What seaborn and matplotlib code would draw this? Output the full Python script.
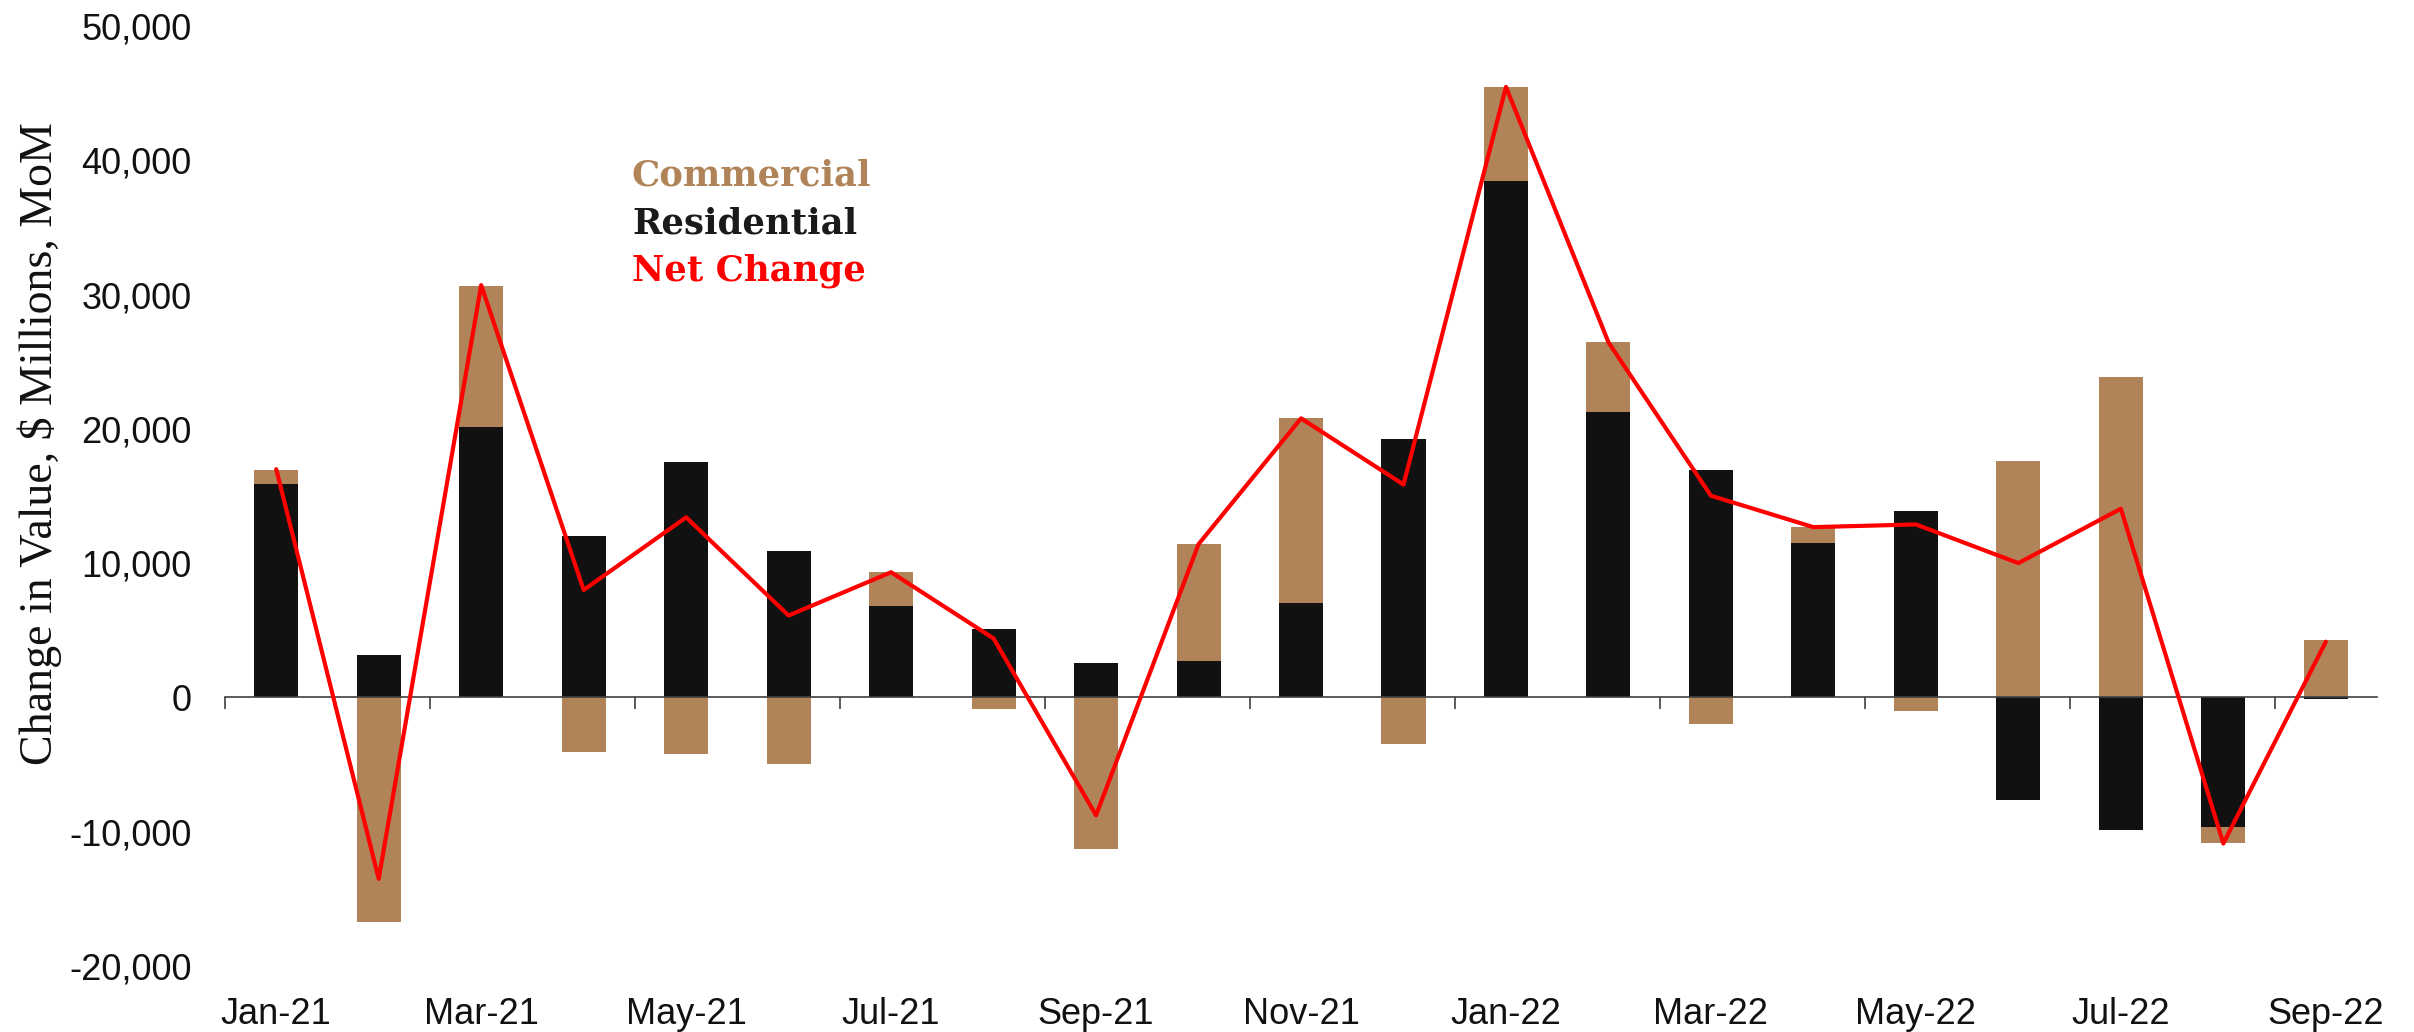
import numpy as np
import pandas as pd
import matplotlib
matplotlib.use("Agg")
import matplotlib.pyplot as plt
import seaborn as sns

# Monthly change in construction value, $ millions
months = ["Jan-21", "Feb-21", "Mar-21", "Apr-21", "May-21", "Jun-21", "Jul-21",
          "Aug-21", "Sep-21", "Oct-21", "Nov-21", "Dec-21", "Jan-22", "Feb-22",
          "Mar-22", "Apr-22", "May-22", "Jun-22", "Jul-22", "Aug-22", "Sep-22"]
residential = [15900, 3170, 20150, 12000, 17560, 10930, 6780, 5070, 2540, 2730,
               7020, 19270, 38440, 21220, 16930, 11510, 13850, -7660, -9900,
               -9660, -150]
commercial = [1070, -16730, 10480, -4050, -4200, -4930, 2540, -880, -11270,
              8680, 13760, -3460, 7020, 5220, -1950, 1170, -980, 17610, 23850,
              -1220, 4290]
net_change = [17000, -13510, 30700, 8000, 13410, 6100, 9320, 4390, -8780,
              11410, 20780, 15850, 45460, 26440, 15020, 12680, 12880, 10000,
              14050, -10880, 4150]
y_ticks = [-20000, -10000, 0, 10000, 20000, 30000, 40000, 50000]

BROWN = "#B08458"
BLACK = "#111111"
RED = "#FF0000"
AXIS = "#404040"

sns.set_theme(style="white")
plt.rcParams["font.family"] = ["Liberation Sans", "DejaVu Sans"]

df = pd.DataFrame({"month": months, "residential": residential,
                   "commercial": commercial, "net": net_change})
df["pos"] = np.arange(len(df))
# positive parts stack upward from zero, negative parts downward
same_sign = np.sign(df["commercial"]) == np.sign(df["residential"])
df["comm_bottom"] = np.where(same_sign, df["residential"], 0)

fig = plt.figure(figsize=(24.14, 10.32), dpi=100)
ax = fig.add_axes([0.0932, 0.064, 0.8915, 0.9108])

sns.barplot(data=df, x="month", y="residential", order=months, color=BLACK,
            width=0.43, saturation=1, errorbar=None, linewidth=0, ax=ax,
            label="Residential")
sns.barplot(data=df, x="month", y="commercial", order=months, color=BROWN,
            width=0.43, saturation=1, errorbar=None, linewidth=0, ax=ax,
            bottom=df["comm_bottom"].to_numpy(), label="Commercial")
sns.lineplot(data=df, x="pos", y="net", color=RED, linewidth=3.0, ax=ax,
             label="Net Change", zorder=5)

ax.set_xlim(-0.5, len(months) - 0.5)
ax.set_ylim(-20000, 50000)

# y axis: labels only
ax.set_yticks(y_ticks, labels=[f"{v:,}" for v in y_ticks])
ax.tick_params(axis="y", length=0, pad=24, labelsize=26, labelcolor="#111111")
ax.set_ylabel("Change in Value, $ Millions, MoM", family="Liberation Serif",
              fontsize=33, color="#111111")
ax.yaxis.set_label_coords(-0.086, 0.556)
ax.yaxis.label.set_va("center")

# x axis line at zero with boundary ticks every two months
for side in ["left", "right", "top"]:
    ax.spines[side].set_visible(False)
ax.spines["bottom"].set_position(("data", 0))
ax.spines["bottom"].set_color(AXIS)
ax.spines["bottom"].set_linewidth(1.2)
ax.set_xticks(np.arange(-0.5, len(months) - 0.5, 2), labels=[])
ax.tick_params(axis="x", length=8.5, width=1.2, color=AXIS, direction="out",
               bottom=True)
ax.set_xlabel("")

# month labels along the bottom of the plot
sec = ax.secondary_xaxis("bottom")
sec.set_xticks(df["pos"][::2], labels=months[::2])
sec.tick_params(length=0, pad=22, labelsize=26, labelcolor="#111111")
sec.spines["bottom"].set_visible(False)

# text-only legend
handles, labels = ax.get_legend_handles_labels()
order = [labels.index(n) for n in ["Commercial", "Residential", "Net Change"]]
leg = ax.legend([handles[i] for i in order], [labels[i] for i in order],
                loc="upper left", bbox_to_anchor=(632 / 2414, 1 - 159 / 1032),
                bbox_transform=fig.transFigure, frameon=False, handlelength=0,
                handletextpad=0, borderpad=0, borderaxespad=0,
                labelspacing=0.37,
                prop={"family": "DejaVu Serif", "weight": "bold", "size": 25.5})
for h in leg.legend_handles:
    h.set_visible(False)
for t, c in zip(leg.get_texts(), [BROWN, "#1a1a1a", RED]):
    t.set_color(c)

fig.savefig("out.png", dpi=100, facecolor="white")
